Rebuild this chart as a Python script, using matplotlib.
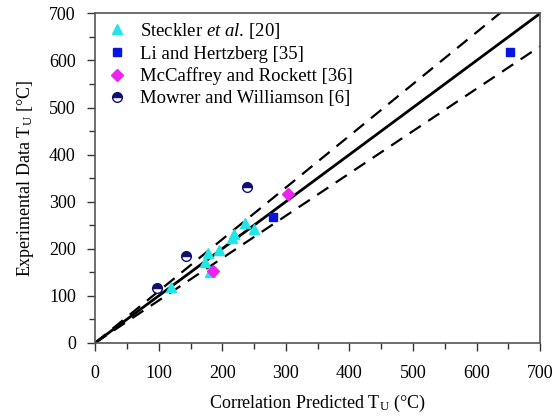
import numpy as np
import matplotlib
matplotlib.use("Agg")
import matplotlib.pyplot as plt
from matplotlib.ticker import MultipleLocator

plt.rcParams['font.family'] = ['Liberation Serif', 'DejaVu Serif']
plt.rcParams['mathtext.fontset'] = 'custom'
plt.rcParams['mathtext.rm'] = 'Liberation Serif'
plt.rcParams['mathtext.it'] = 'Liberation Serif:italic'

# Steckler et al. [20]
steckler_x = [119, 180, 173, 177, 194, 215, 218, 235, 249]
steckler_y = [118, 151, 172, 190, 197, 222, 231, 255, 241]
# Li and Hertzberg [35]
li_x = [279, 652]
li_y = [267, 618]
# McCaffrey and Rockett [36]
mcc_x = [186, 304]
mcc_y = [153, 316]
# Mowrer and Williamson [6]
mow_x = [97, 142, 239]
mow_y = [116, 185, 330]

line_x = np.array([0, 700])

fig, ax = plt.subplots(figsize=(5.54, 4.19), dpi=100)
fig.subplots_adjust(left=0.172, right=0.975, top=0.968, bottom=0.182)

ax.plot(line_x, line_x, color='black', lw=2, zorder=2)
ax.plot(line_x, 1.1 * line_x, color='black', lw=1.6, ls=(0, (6, 4)), zorder=2)
ax.plot(line_x, 0.9 * line_x, color='black', lw=1.6, ls=(0, (6, 4)), zorder=2)

ax.plot(steckler_x, steckler_y, ls='none', marker='^', ms=7, color='#22e5e5',
        mec='#22e5e5', label='Steckler $\\mathit{et\\ al.}\\,$[20]', zorder=3)
ax.plot(li_x, li_y, ls='none', marker='s', ms=6, color='#0a14e0',
        mec='#0a14e0', label='Li and Hertzberg [35]', zorder=3)
ax.plot(mcc_x, mcc_y, ls='none', marker='D', ms=6, color='#ee22ee',
        mec='#ee22ee', label='McCaffrey and Rockett [36]', zorder=3)
ax.plot(mow_x, mow_y, ls='none', marker='o', ms=7, color='#101070',
        mec='#101070', fillstyle='top', markerfacecoloralt='white', mew=1,
        label='Mowrer and Williamson [6]', zorder=3)

ax.set_xlim(0, 700)
ax.set_ylim(0, 700)
ax.xaxis.set_major_locator(MultipleLocator(100))
ax.xaxis.set_minor_locator(MultipleLocator(50))
ax.yaxis.set_major_locator(MultipleLocator(100))
ax.yaxis.set_minor_locator(MultipleLocator(50))
ax.tick_params(which='both', direction='out', top=False, right=False,
               labelsize=13, color='#333333', width=1)
ax.tick_params(which='major', length=6)
ax.tick_params(axis='x', which='major', pad=10)
ax.tick_params(axis='y', which='major', pad=8)
ax.tick_params(which='minor', length=4)
for s in ax.spines.values():
    s.set_color('#555555')
    s.set_linewidth(1.2)

ax.set_xlabel('Correlation Predicted T$_\\mathregular{U}$ (°C)', fontsize=13, labelpad=8)
ax.set_ylabel('Experimental Data T$_\\mathregular{U}$ [°C]', fontsize=13, labelpad=9)

ax.legend(loc='upper left', frameon=False, fontsize=13.5, handletextpad=0.5,
          borderaxespad=0.0, borderpad=0.4, labelspacing=0.25, handlelength=1.5)

fig.savefig('out.png', dpi=100)
